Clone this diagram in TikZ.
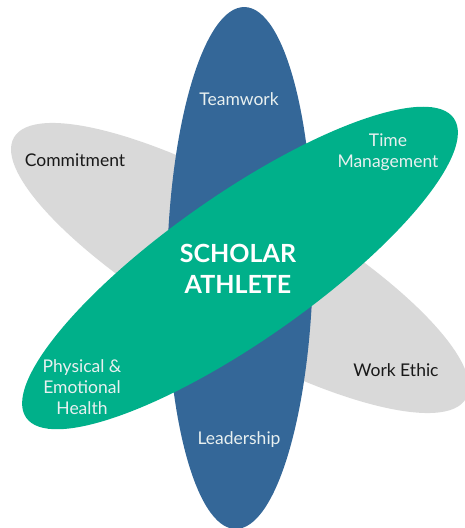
\documentclass[tikz,border=0pt]{standalone}
\usepackage{fontspec}
\setmainfont{Lato}
\definecolor{petalgray}{RGB}{217,217,217}
\definecolor{petalblue}{RGB}{52,103,152}
\definecolor{petalgreen}{RGB}{0,176,138}
\definecolor{lighttext}{RGB}{232,240,240}
\tikzset{
	label text/.style={align=center,inner sep=0pt,font=\fontsize{17.5}{21}\selectfont},
	on dark/.style={label text,text=lighttext},
	on light/.style={label text,text=black!90},
}
\begin{document}
\begin{tikzpicture}[x=1pt,y=1pt]
		\def\petal#1#2{\fill[#1,rotate around={#2:(C)}](C)ellipse[x radius=261pt,y radius=73pt];}%
		\useasboundingbox(0,0)rectangle(464,528);
		\coordinate(C)at(240,260);

		\petal{petalgray}{-30}
		\petal{petalblue}{89}
		\petal{petalgreen}{35}

		\node[on dark,font=\fontsize{25}{31}\selectfont\bfseries,text=white](center)at(238,259){SCHOLAR\\ATHLETE};
		\node[on dark](teamwork)at(239,429){Teamwork};
		\node[on dark](leadership)at(239,88){Leadership};
		\node[on dark](time)at(388,376){Time\\Management};
		\node[on dark](health)at(82,141){Physical \&\\Emotional\\Health};
		\node[on light](commitment)at(75,368){Commitment};
		\node[on light](ethic)at(396,158){Work Ethic};
	\end{tikzpicture}
\end{document}
